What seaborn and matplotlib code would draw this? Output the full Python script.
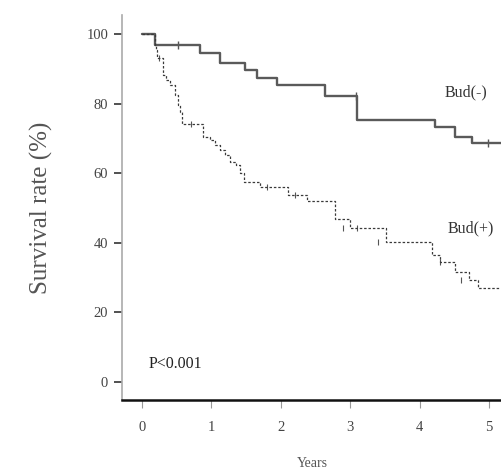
import matplotlib
matplotlib.use("Agg")
import matplotlib.pyplot as plt
import seaborn as sns
import pandas as pd

# Kaplan-Meier step data (years, survival %)
neg_times = [0.0, 0.19, 0.84, 1.12, 1.48, 1.66, 1.95, 2.64, 3.10, 4.22, 4.51, 4.75, 5.30]
neg_surv = [100.0, 97.0, 94.6, 91.8, 89.7, 87.4, 85.5, 82.3, 75.3, 73.3, 70.4, 68.7, 68.7]
pos_times = [0.0, 0.19, 0.20, 0.22, 0.30, 0.35, 0.40, 0.48, 0.52, 0.55, 0.58, 0.88, 0.98,
             1.05, 1.12, 1.20, 1.27, 1.35, 1.41, 1.47, 1.70, 2.10, 2.38, 2.78, 3.00,
             3.52, 4.18, 4.29, 4.51, 4.71, 4.84, 5.30]
pos_surv = [100.0, 96.8, 95.4, 93.1, 88.2, 86.8, 85.3, 82.5, 79.6, 77.6, 74.1, 70.4, 69.5,
            68.1, 66.7, 65.2, 63.2, 62.4, 60.1, 57.5, 56.0, 53.7, 52.0, 47.0, 44.3,
            40.2, 36.5, 34.5, 31.6, 29.3, 27.0, 27.0]
neg_cens_t = [0.52, 3.08, 4.98]
neg_cens_s = [97.0, 82.3, 68.7]
pos_cens_t = [0.24, 0.70, 1.80, 2.20, 2.90, 3.10, 3.40, 4.30, 4.60]
pos_cens_s = [93.1, 74.1, 56.0, 53.7, 44.3, 44.3, 40.2, 34.5, 29.3]
x_ticks = [0, 1, 2, 3, 4, 5]
y_ticks = [0, 20, 40, 60, 80, 100]
group_labels = ["Bud(-)", "Bud(+)"]

sns.set_style("ticks")
plt.rcParams["font.family"] = ["Liberation Serif", "DejaVu Serif"]

fig = plt.figure(figsize=(5.02, 4.73), dpi=100)
ax = fig.add_axes([0.243, 0.1543, 0.757, 0.8137])

df_neg = pd.DataFrame({"t": neg_times, "s": neg_surv})
df_pos = pd.DataFrame({"t": pos_times, "s": pos_surv})
sns.lineplot(data=df_neg, x="t", y="s", ax=ax, drawstyle="steps-post",
             color="#5a5a5a", linewidth=1.7, estimator=None)
sns.lineplot(data=df_pos, x="t", y="s", ax=ax, drawstyle="steps-post",
             color="#3a3a3a", linewidth=0.9, linestyle=(0, (2, 1.5)), estimator=None)
sns.scatterplot(x=neg_cens_t, y=neg_cens_s, ax=ax, marker="|", s=30,
                color="#555555", linewidth=1.0)
sns.scatterplot(x=pos_cens_t, y=pos_cens_s, ax=ax, marker="|", s=18,
                color="#555555", linewidth=0.8)

ax.set_xlim(-0.288, 5.187)
ax.set_ylim(-5.17, 105.46)
ax.set_xticks(x_ticks)
ax.set_yticks(y_ticks)
ax.set_xticklabels([str(v) for v in x_ticks], fontsize=10.5, color="#444444")
ax.set_yticklabels([str(v) for v in y_ticks], fontsize=10.5, color="#444444")
ax.tick_params(axis="y", length=6, width=1.2, color="#333333", pad=4)
ax.tick_params(axis="x", length=6, width=0.8, color="#999999", pad=9)

ax.set_xlabel("Years", fontsize=10, color="#555555", labelpad=17)
ax.set_ylabel("Survival rate (%)", fontsize=18, color="#555555", labelpad=24)

for side in ["top", "right"]:
    ax.spines[side].set_visible(False)
ax.spines["left"].set_color("#aaaaaa")
ax.spines["left"].set_linewidth(1.2)
ax.spines["bottom"].set_color("#111111")
ax.spines["bottom"].set_linewidth(1.8)

ax.text(0.09, 5.2, "P<0.001", fontsize=11.5, color="#222222", va="center", ha="left")
ax.text(4.36, 83.3, group_labels[0], fontsize=11.5, color="#333333", va="center", ha="left", clip_on=False)
ax.text(4.40, 44.3, group_labels[1], fontsize=11.5, color="#333333", va="center", ha="left", clip_on=False)

fig.savefig("out.png", dpi=100)
